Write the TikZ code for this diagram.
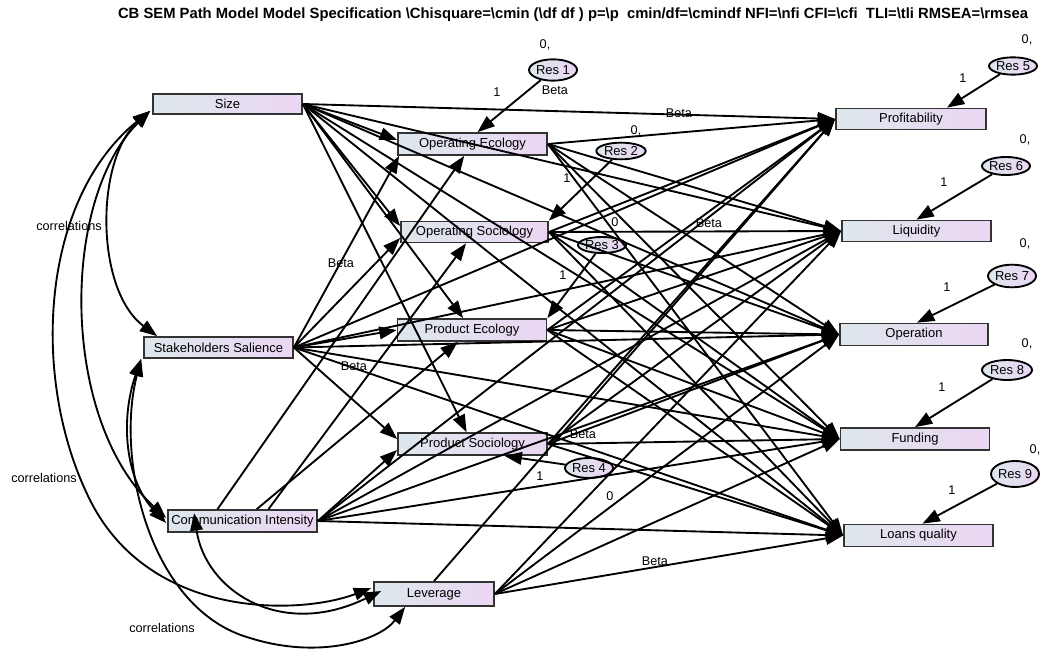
\documentclass[tikz,border=0pt]{standalone}
\usepackage{fontspec}
\setmainfont{Liberation Sans}
\usetikzlibrary{arrows.meta,shapes.geometric,calc}
\definecolor{fillL}{HTML}{DDE7EC}
\definecolor{fillR}{HTML}{EBD6F3}
\begin{document}
\begin{tikzpicture}[x=0.75pt,y=-0.75pt,
  var/.style={draw=black!80,line width=1.3pt,rectangle,inner sep=0pt,
    left color=fillL,right color=fillR,font=\fontsize{9.75pt}{11pt}\selectfont},
  res/.style={draw=black,line width=1.4pt,ellipse,inner sep=0pt,
    left color=fillL,right color=fillR,font=\fontsize{9.75pt}{11pt}\selectfont},
  path/.style={line width=1.4pt,-{Triangle[length=13pt,width=9.5pt]}},
  corr/.style={line width=1.4pt,{Triangle[length=13pt,width=9.5pt]}-{Triangle[length=13pt,width=9.5pt]}},
  lbl/.style={font=\fontsize{9.5pt}{10pt}\selectfont,inner sep=0pt}]
\useasboundingbox (0,0) rectangle (1041,649);

% title
\node[inner sep=0pt,font=\bfseries\fontsize{11.1pt}{12pt}\selectfont] (title) at (573,15)
  {CB SEM Path Model Model Specification \textbackslash Chisquare=\textbackslash cmin (\textbackslash df df ) p=\textbackslash p\ \ cmin/df=\textbackslash cmindf NFI=\textbackslash nfi CFI=\textbackslash cfi\ \ TLI=\textbackslash tli RMSEA=\textbackslash rmsea};

% exogenous variables
\node[var,minimum width=111.75pt,minimum height=15pt] (size) at (227.5,104) {Size};
\node[var,minimum width=111.75pt,minimum height=15.75pt] (ss) at (218.5,347.5) {Stakeholders Salience};
\node[var,minimum width=111.75pt,minimum height=16.5pt] (ci) at (242.5,521) {Communication Intensity};
\node[var,minimum width=90pt,minimum height=18pt] (lev) at (434,594) {Leverage};

% mediators
\node[var,minimum width=111.75pt,minimum height=16.5pt] (oe) at (472.5,144) {Operating Ecology};
\node[var,minimum width=110.25pt,minimum height=15.75pt] (os) at (474.5,232) {Operating Sociology};
\node[var,minimum width=111.75pt,minimum height=16.5pt] (pe) at (472,330) {Product Ecology};
\node[var,minimum width=111.75pt,minimum height=16.5pt] (ps) at (472.5,444) {Product Sociology};

% outcomes
\node[var,minimum width=112.5pt,minimum height=15.75pt] (prof) at (911,119) {Profitability};
\node[var,minimum width=111.75pt,minimum height=15.75pt] (liq) at (916.5,231) {Liquidity};
\node[var,minimum width=111pt,minimum height=16.5pt] (oper) at (914,334.5) {Operation};
\node[var,minimum width=111.75pt,minimum height=16.5pt] (fund) at (915,439) {Funding};
\node[var,minimum width=111.75pt,minimum height=16.5pt] (loans) at (918.5,535.5) {Loans quality};

% residuals
\node[res,minimum width=35pt,minimum height=16pt] (r1) at (553,70) {Res 1};
\node[res,minimum width=37pt,minimum height=12.5pt] (r2) at (621,151) {Res 2};
\node[res,minimum width=31pt,minimum height=12pt] (r3) at (602,245) {Res 3};
\node[res,minimum width=33pt,minimum height=15pt] (r4) at (589,468) {Res 4};
\node[res,minimum width=31.5pt,minimum height=13pt] (r5) at (1013,66) {Res 5};
\node[res,minimum width=35pt,minimum height=13.5pt] (r6) at (1006,166) {Res 6};
\node[res,minimum width=34pt,minimum height=17pt] (r7) at (1012,276) {Res 7};
\node[res,minimum width=37.5pt,minimum height=15pt] (r8) at (1007,370) {Res 8};
\node[res,minimum width=36pt,minimum height=19.5pt] (r9) at (1015,474) {Res 9};

% anchor points on the box sides
\coordinate (ciTopA) at ($(ci.north)+(-25,0)$);
\coordinate (ciTopB) at ($(ci.north)+(26,0)$);
\coordinate (levTop) at ($(lev.north)+(0,0)$);

% exogenous -> mediators
\draw[path] (size.east) -- ($(oe.west)+(0,-4)$);
\draw[path] (size.east) -- ($(os.west)+(0,-6)$);
\draw[path] (size.east) -- (pe);
\draw[path] (size.east) -- (ps);
\draw[path] (ss.east) -- ($(oe.south west)+(2,0)$);
\draw[path] (ss.east) -- ($(os.west)+(0,6)$);
\draw[path] (ss.east) -- (pe.west);
\draw[path] (ss.east) -- ($(ps.west)+(0,-5)$);
\draw[path] (ciTopA) -- (oe);
\draw[path] (ciTopB) -- (os);
\draw[path] (ci) -- (pe);
\draw[path] (ci.east) -- ($(ps.west)+(0,6)$);

% exogenous and mediators -> outcomes
\foreach \s in {size,ss,ci,oe,os,pe,ps}{
  \foreach \t in {prof,liq,oper,fund,loans}{\draw[path] (\s.east) -- (\t.west);}}
\draw[path] (levTop) -- (prof.west);
\foreach \t in {liq,oper,fund,loans}{\draw[path] (lev.east) -- (\t.west);}

% residual paths
\draw[path] (r1) -- ($(oe.north)+(5,0)$);
\draw[path] (r2) -- (os.north east);
\draw[path] (r3) -- (pe.north east);
\draw[path] (r4) -- ($(ps.south)+(32,0)$);
\draw[path] (r5) -- ($(prof.north)+(36,0)$);
\draw[path] (r6) -- (liq.north);
\draw[path] (r7) -- ($(oper.north)+(3,0)$);
\draw[path] (r8) -- (fund.north);
\draw[path] (r9) -- ($(loans.north)+(4,0)$);

% correlations among exogenous variables
\coordinate (sizeA) at ($(size.south west)+(-2,-4)$);
\coordinate (ssTop) at ($(ss.north west)+(14,0)$);
\coordinate (ssBot) at ($(ss.south west)+(-2,0)$);
\coordinate (ciL) at ($(ci.west)+(-1,-3)$);
\coordinate (ciL2) at ($(ci.west)+(-1,2)$);
\coordinate (ciIn) at ($(ci.north west)+(27,4)$);
\coordinate (levL) at ($(lev.west)+(-2,-6)$);
\coordinate (levL2) at ($(lev.west)+(8,-3)$);
\coordinate (levB) at ($(lev.south west)+(32,0)$);
\draw[corr] (sizeA) .. controls (95,160) and (95,290) .. (ssTop);
\draw[corr] (sizeA) .. controls (60,200) and (60,420) .. (ciL);
\draw[corr] (sizeA) .. controls (40,200) and (30,380) .. (90,500)
  .. controls (150,620) and (300,615) .. (levL);
\draw[corr] (ssBot) .. controls (120,420) and (125,480) .. (ciL2);
\draw[corr] (ssBot) .. controls (115,460) and (150,610) .. (250,638)
  .. controls (320,660) and (380,640) .. (levB);
\draw[corr] (ciIn) .. controls (205,590) and (280,640) .. (levL2);

% labels
\node[lbl] (c1) at (69,226) {correlations};
\node[lbl] (c2) at (44,478) {correlations};
\node[lbl] (c3) at (162,628) {correlations};
\foreach \p [count=\i] in {(555,90),(679,113),(709,223),(341,263),(354,366),(583,434),(655,561)}
  \node[lbl] (beta\i) at \p {Beta};
\foreach \p [count=\i] in {(545,45),(636,131),(1027,40),(1025,140),(1025,244),(1027,344),(1035,450)}
  \node[lbl] (zc\i) at \p {0,};
\node[lbl] (z1) at (615,222) {0};
\node[lbl] (z2) at (610,496) {0};
\foreach \p [count=\i] in {(497,92),(567,178),(563,275),(540,476),(963,78),(944,182),(947,287),(942,387),(952,490)}
  \node[lbl] (one\i) at \p {1};
\end{tikzpicture}
\end{document}
